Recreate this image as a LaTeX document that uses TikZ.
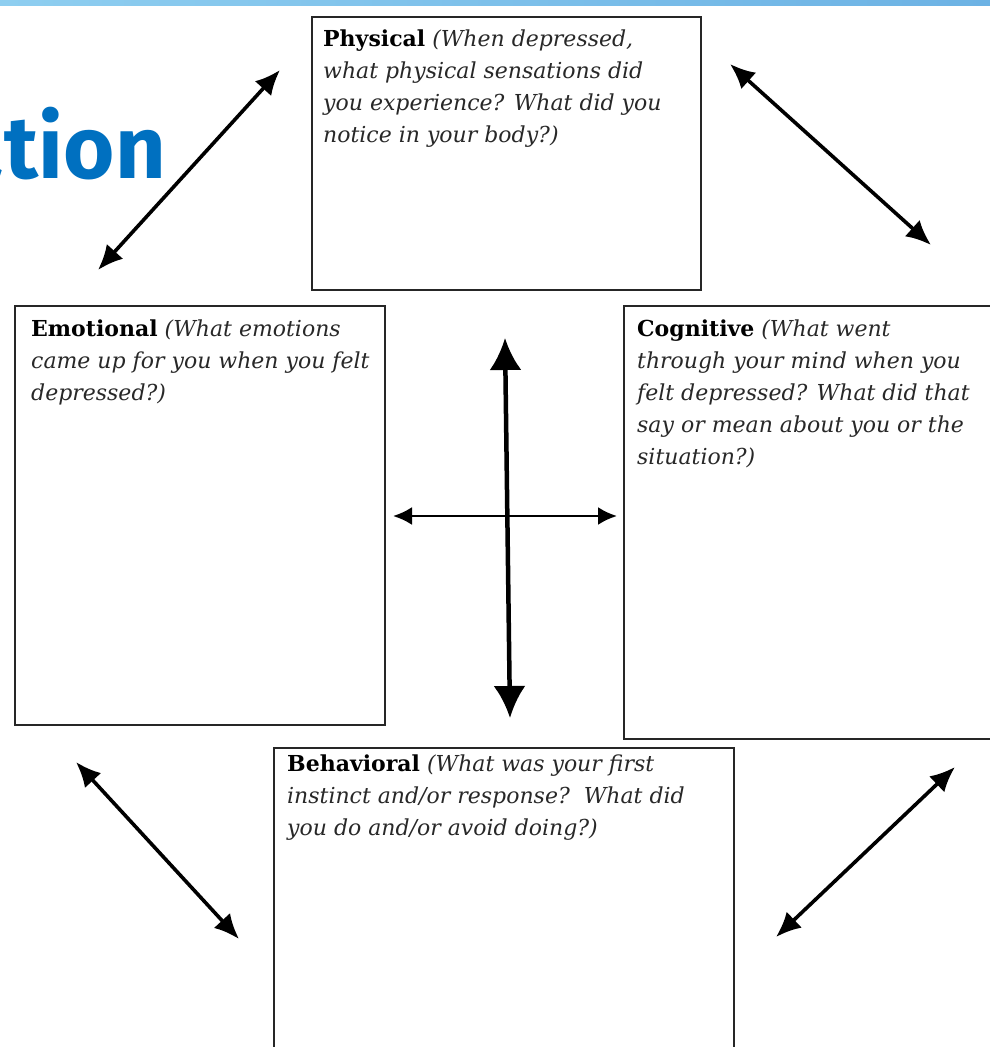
\documentclass[tikz,border=0pt]{standalone}
\usepackage{fontspec}
\setmainfont{DejaVu Serif}
\newfontfamily\handfont{Fira Sans}
\usepackage{tikz}
\usetikzlibrary{arrows.meta,positioning,calc}
\usepackage{xcolor}
\definecolor{barleft}{RGB}{142,206,240}
\definecolor{barright}{RGB}{108,178,228}
\definecolor{titleblue}{RGB}{0,112,192}
\definecolor{inkgray}{RGB}{40,40,40}

\begin{document}
\begin{tikzpicture}[x=1pt,y=-1pt,
  card/.style={draw=black!85,line width=1.8pt,fill=white,inner sep=0pt,anchor=north west},
  cardtext/.style={anchor=north west,inner sep=0pt,align=left,text=inkgray,
    font=\fontsize{22pt}{32pt}\selectfont\itshape},
  twoway/.style={line width=3.6pt,{Latex[length=25pt,width=22pt]}-{Latex[length=25pt,width=22pt]}},
  vway/.style={line width=4.5pt,{Latex[length=32pt,width=32pt]}-{Latex[length=32pt,width=32pt]}},
  hway/.style={line width=2.6pt,{Latex[length=19pt,width=18pt]}-{Latex[length=19pt,width=18pt]}}]
\clip (0,0) rectangle (990,1047);
\fill[white] (0,0) rectangle (990,1047);
\shade[left color=barleft,right color=barright] (0,0) rectangle (990,5);
\node[anchor=base east,inner sep=0pt,text=titleblue,font=\handfont\bfseries\fontsize{88pt}{88pt}\selectfont] (title) at (166,178){ation};
% the four boxes
\node[card,minimum width=389pt,minimum height=273pt] (phys) at (311,16){};
\node[card,minimum width=370pt,minimum height=419pt] (emo) at (14,305){};
\node[card,minimum width=390pt,minimum height=433pt] (cog) at (623,305){};
\node[card,minimum width=460pt,minimum height=320pt] (beh) at (273,747){};
\node[cardtext] (physq) at ($(phys.north west)+(12,14)$){{\normalfont\bfseries\color{black}Physical} (When depressed,\\what physical sensations did\\you experience? What did you\\notice in your body?)};
\node[cardtext] (emoq) at ($(emo.north west)+(17,15)$){{\normalfont\bfseries\color{black}Emotional} (What emotions\\came up for you when you felt\\depressed?)};
\node[cardtext] (cogq) at ($(cog.north west)+(14,15)$){{\normalfont\bfseries\color{black}Cognitive} (What went\\through your mind when you\\felt depressed? What did that\\say or mean about you or the\\situation?)};
\node[cardtext] (behq) at ($(beh.north west)+(14,8)$){{\normalfont\bfseries\color{black}Behavioral} (What was your first\\instinct and/or response?\ \ What did\\you do and/or avoid doing?)};
% arrow ends
\coordinate (tlA) at (98,270);
\coordinate (tlB) at (280,70);
\coordinate (trA) at (730,64);
\coordinate (trB) at (931,245);
\coordinate (blA) at (76,762);
\coordinate (blB) at (239,939);
\coordinate (brA) at (776,937);
\coordinate (brB) at (955,767);
\coordinate (up) at (505,338);
\coordinate (down) at (510,718);
\coordinate (left) at (393,516);
\coordinate (right) at (617,516);
\draw[twoway] (tlA)--(tlB);
\draw[twoway] (trA)--(trB);
\draw[twoway] (blA)--(blB);
\draw[twoway] (brA)--(brB);
\draw[hway] (left)--(right);
\draw[vway] (up)--(down);
\end{tikzpicture}
\end{document}
